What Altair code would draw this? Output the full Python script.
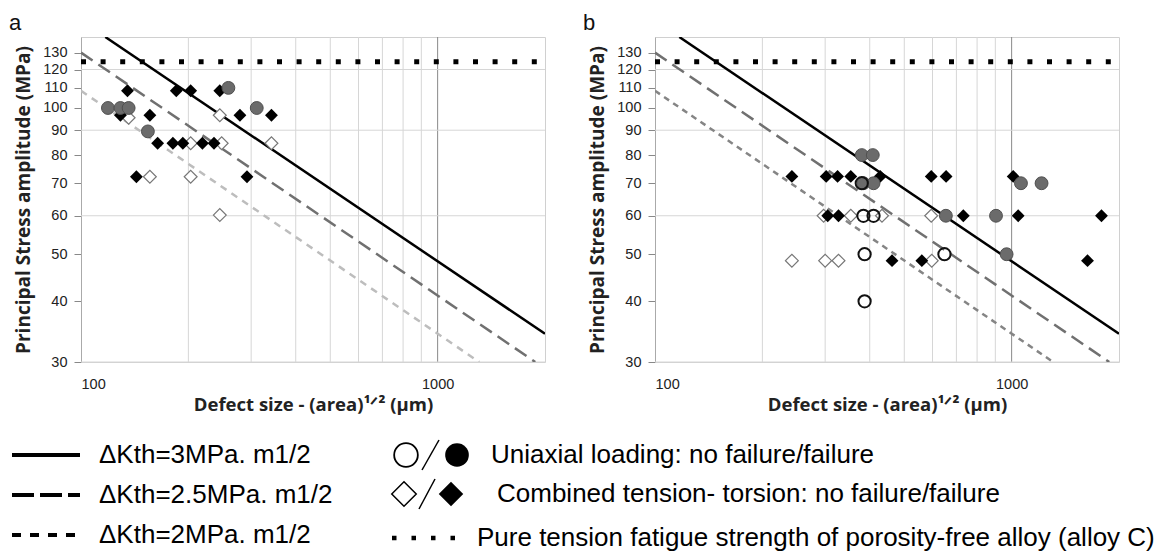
import altair as alt
import pandas as pd

# ---------------- axes / grid values ----------------
X_DOMAIN = [100, 2000]
Y_DOMAIN = [30, 140]
Y_TICKS = [30, 40, 50, 60, 70, 80, 90, 100, 110, 120, 130]
X_TICKS = [100, 1000]
X_GRID_MINOR = [200, 300, 400, 500, 600, 700, 800, 900]
X_GRID_MAJOR = [1000]
Y_GRID = [30, 60, 90, 120]

# ---------------- panel a data ----------------
a_fail_circle_x = [119, 129, 136, 154, 259, 311]
a_fail_circle_y = [100, 100, 100, 89.5, 110, 100]
a_fail_diamond_x = [135, 129, 156, 164, 143, 185, 203, 181, 193, 219, 236, 245, 279, 292, 342]
a_fail_diamond_y = [108.5, 96.6, 96.6, 84.6, 72.2, 108.5, 108.5, 84.6, 84.6, 84.6, 84.6, 108.5, 96.6, 72.2, 96.6]
a_nofail_diamond_x = [136, 156, 203, 203, 245, 248, 245, 342]
a_nofail_diamond_y = [95.5, 72.2, 84.6, 72.2, 96.6, 84.6, 60.2, 84.6]
a_nofail_circle_x = []
a_nofail_circle_y = []

# ---------------- panel b data ----------------
b_fail_circle_x = [380, 408, 384, 410, 1062, 1213, 654, 904, 968]
b_fail_circle_y = [80, 80, 70, 70, 70, 70, 60, 60, 50]
b_nofail_circle_x = [380, 384, 410, 387, 648, 387]
b_nofail_circle_y = [70, 60, 60, 50, 50, 40]
b_fail_diamond_x = [242, 302, 325, 354, 428, 595, 655, 1010, 305, 327, 732, 1043, 1786, 462, 560, 1632]
b_fail_diamond_y = [72.3, 72.3, 72.3, 72.3, 72.3, 72.3, 72.3, 72.3, 60, 60, 60, 60, 60, 48.5, 48.5, 48.5]
b_nofail_diamond_x = [297, 354, 433, 595, 242, 300, 327, 597]
b_nofail_diamond_y = [60, 60, 60, 60, 48.5, 48.5, 48.5, 48.5]

# ---------------- threshold lines (end points) ----------------
k3_x = [117, 2000]
k3_y = [140, 34.3]
k25_x = [100, 1878]
k25_y = [130, 30]
k2_x = [100, 1308]
k2_y = [108.5, 30]
alloyC_x = [100, 2000]
alloyC_y = [124.5, 124.5]

# ---------------- legend texts ----------------
legend_line_labels = ["\u0394Kth=3MPa. m1/2", "\u0394Kth=2.5MPa. m1/2", "\u0394Kth=2MPa. m1/2"]
legend_symbol_labels = ["Uniaxial loading: no failure/failure",
                        "Combined tension- torsion: no failure/failure",
                        "Pure tension fatigue strength of porosity-free alloy (alloy C)"]
panel_labels = ["a", "b"]

PANEL_W = 464
PANEL_H = 325
AX_FONT = "Open Sans"
TICK_FONT = "Liberation Sans"

xs = alt.Scale(type="log", domain=X_DOMAIN, nice=False)
ys = alt.Scale(type="log", domain=Y_DOMAIN, nice=False)

x_axis = alt.Axis(values=X_TICKS, format="d", ticks=False, domain=False, grid=False,
                  labelFont=TICK_FONT, labelFontSize=14.5, labelColor="#222", labelPadding=15,
                  title="Defect size - (area)\u00b9\u141f\u00b2 (\u00b5m)", titleFont=AX_FONT,
                  titleFontSize=18.5, titleFontWeight="bold", titleColor="#222", titlePadding=5)
y_axis = alt.Axis(values=Y_TICKS, format="d", grid=False, tickSize=7, tickColor="#888",
                  domainColor="#aaa", labelFont=TICK_FONT, labelFontSize=14.5, labelColor="#222",
                  labelPadding=7, minExtent=40, maxExtent=40,
                  title="Principal Stress amplitude (MPa)", titleFont=AX_FONT, titleFontSize=19,
                  titleFontWeight="bold", titleColor="#222", titlePadding=8)


def xe():
    return alt.X("x:Q", scale=xs, axis=x_axis)


def ye():
    return alt.Y("y:Q", scale=ys, axis=y_axis)


def pts(xv, yv):
    return pd.DataFrame({"x": xv, "y": yv})


def panel(label, fc, nfc, fd, nfd, short_color, short_dash):
    vgrid = alt.Chart(pd.DataFrame({"x": X_GRID_MINOR})).mark_rule(
        color="#d6d6d6", strokeWidth=1).encode(x=xe())
    vgrid2 = alt.Chart(pd.DataFrame({"x": X_GRID_MAJOR})).mark_rule(
        color="#8a8a8a", strokeWidth=1).encode(x=xe())
    hgrid = alt.Chart(pd.DataFrame({"y": Y_GRID})).mark_rule(
        color="#d6d6d6", strokeWidth=1).encode(y=ye())
    dotted = alt.Chart(pts(alloyC_x, alloyC_y)).mark_line(
        color="black", strokeWidth=5, strokeDash=[5, 14.6], strokeCap="butt", clip=True
    ).encode(x=xe(), y=ye())
    l2 = alt.Chart(pts(k2_x, k2_y)).mark_line(
        color=short_color, strokeWidth=2.5, strokeDash=short_dash, clip=True
    ).encode(x=xe(), y=ye())
    l25 = alt.Chart(pts(k25_x, k25_y)).mark_line(
        color="#707070", strokeWidth=2.5, strokeDash=[14, 7], clip=True
    ).encode(x=xe(), y=ye())
    l3 = alt.Chart(pts(k3_x, k3_y)).mark_line(
        color="black", strokeWidth=2.5, clip=True
    ).encode(x=xe(), y=ye())
    lab = alt.Chart(pd.DataFrame({"t": [label]})).mark_text(
        align="left", baseline="alphabetic", font="Liberation Sans", fontSize=22, color="#111"
    ).encode(x=alt.value(-72), y=alt.value(-7), text="t:N")
    layers = [vgrid, vgrid2, hgrid, dotted, l2, l25, l3, lab]
    if len(nfd[0]):
        layers.append(alt.Chart(pts(*nfd)).mark_point(
            shape="diamond", filled=True, fill="white", stroke="#777", strokeWidth=1.2,
            size=165, opacity=1).encode(x=xe(), y=ye()))
    if len(fd[0]):
        layers.append(alt.Chart(pts(*fd)).mark_point(
            shape="diamond", filled=True, color="black", size=165, opacity=1
        ).encode(x=xe(), y=ye()))
    if len(fc[0]):
        layers.append(alt.Chart(pts(*fc)).mark_point(
            shape="circle", filled=True, fill="#6b6b6b", stroke="#505050", strokeWidth=1,
            size=165, opacity=1).encode(x=xe(), y=ye()))
    if len(nfc[0]):
        layers.append(alt.Chart(pts(*nfc)).mark_point(
            shape="circle", filled=False, stroke="#111", strokeWidth=2,
            size=150, opacity=1).encode(x=xe(), y=ye()))
    return alt.layer(*layers).properties(
        width=PANEL_W, height=PANEL_H,
        view=alt.ViewBackground(stroke="#d0d0d0", strokeWidth=1),
    )


pa = panel(panel_labels[0], (a_fail_circle_x, a_fail_circle_y), (a_nofail_circle_x, a_nofail_circle_y),
           (a_fail_diamond_x, a_fail_diamond_y), (a_nofail_diamond_x, a_nofail_diamond_y),
           "#bdbdbd", [7, 6])
pb = panel(panel_labels[1], (b_fail_circle_x, b_fail_circle_y), (b_nofail_circle_x, b_nofail_circle_y),
           (b_fail_diamond_x, b_fail_diamond_y), (b_nofail_diamond_x, b_nofail_diamond_y),
           "#858585", [6, 5])

# ---------------- custom legend (layout in pixels of the legend panel) ----------------
LEG_X0 = 82     # page x of the legend panel origin (aligned with panel a plot origin)
LEG_Y0 = 430    # page y of the legend panel origin
one = pd.DataFrame({"k": [0]})


def lx(v):
    return alt.value(v - LEG_X0)


def ly(v):
    return alt.value(v - LEG_Y0)


LEG_FONT = "Liberation Sans"
LEG_SIZE = 26
leg = []
row_left = [455, 495, 535]
dashes = [None, [22, 6], [9, 9]]
for i in range(3):
    kw = dict(color="black", strokeWidth=4, strokeCap="butt")
    if dashes[i]:
        kw["strokeDash"] = dashes[i]
    leg.append(alt.Chart(one).mark_rule(**kw).encode(
        x=lx(13), x2=lx(81), y=ly(row_left[i])))
    leg.append(alt.Chart(one).mark_text(
        align="left", baseline="middle", font=LEG_FONT, fontSize=LEG_SIZE, color="black"
    ).encode(x=lx(100), y=ly(row_left[i]), text=alt.value(legend_line_labels[i])))

row_right = [455, 494, 538]
# circles
leg.append(alt.Chart(one).mark_point(shape="circle", filled=True, fill="white", stroke="black",
                                     strokeWidth=1.8, size=560, opacity=1).encode(
    x=lx(407), y=ly(row_right[0])))
leg.append(alt.Chart(one).mark_point(shape="circle", filled=True, color="black",
                                     size=560, opacity=1).encode(
    x=lx(458), y=ly(row_right[0])))
leg.append(alt.Chart(one).mark_rule(color="black", strokeWidth=1.5).encode(
    x=lx(423), x2=lx(440), y=ly(row_right[0] + 15), y2=ly(row_right[0] - 15)))
# diamonds
leg.append(alt.Chart(one).mark_point(shape="diamond", filled=True, fill="white", stroke="black",
                                     strokeWidth=1.5, size=600, opacity=1).encode(
    x=lx(405), y=ly(row_right[1])))
leg.append(alt.Chart(one).mark_point(shape="diamond", filled=True, color="black",
                                     size=600, opacity=1).encode(
    x=lx(452), y=ly(row_right[1])))
leg.append(alt.Chart(one).mark_rule(color="black", strokeWidth=1.5).encode(
    x=lx(420), x2=lx(436), y=ly(row_right[1] + 15), y2=ly(row_right[1] - 15)))
# dots
leg.append(alt.Chart(one).mark_rule(color="black", strokeWidth=4.5, strokeDash=[4.5, 15],
                                    strokeCap="butt").encode(
    x=lx(393), x2=lx(460), y=ly(row_right[2])))
text_x_right = [492, 498, 478]
for i in range(3):
    leg.append(alt.Chart(one).mark_text(
        align="left", baseline="middle", font=LEG_FONT, fontSize=LEG_SIZE, color="black"
    ).encode(x=lx(text_x_right[i]), y=ly(row_right[i]), text=alt.value(legend_symbol_labels[i])))

legend = alt.layer(*leg).properties(width=1075, height=118,
                                    view=alt.ViewBackground(strokeOpacity=0))

chart = alt.vconcat(
    alt.hconcat(pa, pb, spacing=36),
    legend,
    spacing=15,
).properties(
    padding={"left": 0, "top": 3, "right": 0, "bottom": 0},
    background="white",
).configure_view(strokeWidth=0)

chart.save("out.html", embed_options={"renderer": "svg", "actions": False})
